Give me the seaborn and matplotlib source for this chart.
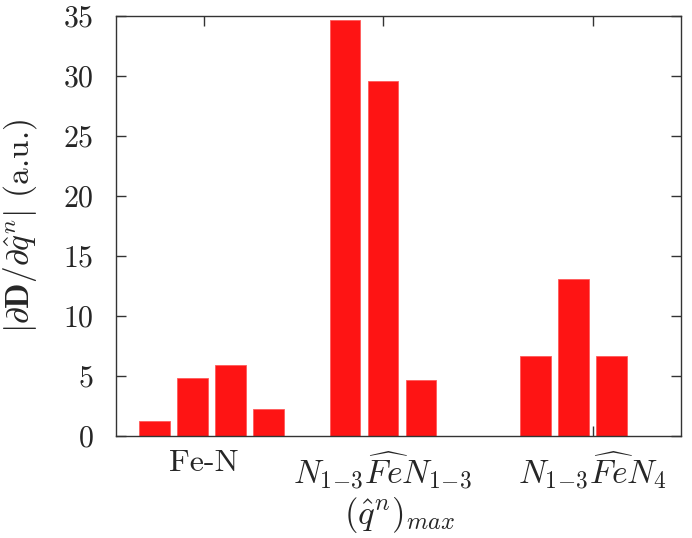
import matplotlib
matplotlib.use('Agg')
import matplotlib.pyplot as plt
import pandas as pd
import seaborn as sns

# bar slots: 4 per group, groups 5 slots apart
positions = [0, 1, 2, 3, 5, 6, 7, 10, 11, 12]
values = [1.2, 4.8, 5.9, 2.25, 34.7, 29.6, 4.65, 6.65, 13.1, 6.65]
group_ticks = [1.3, 6.0, 11.5]
group_labels = ["Fe-N", r"$N_{1\!-\!3}\widehat{Fe}N_{1\!-\!3}$", r"$N_{1\!-\!3}\widehat{Fe}N_4$"]
y_ticks = [0, 5, 10, 15, 20, 25, 30, 35]

df = pd.DataFrame({"pos": positions, "value": values})

sns.set_style("ticks")
plt.rcParams['font.family'] = ['cmr10', 'DejaVu Serif']
plt.rcParams['mathtext.fontset'] = 'cm'
plt.rcParams['axes.formatter.use_mathtext'] = True

fig = plt.figure(figsize=(6.92, 5.38), dpi=100)
ax = fig.add_axes([0.168, 0.19, 0.816, 0.78])

sns.barplot(data=df, x="pos", y="value", native_scale=True, width=0.8,
            color="#fe1414", saturation=1, edgecolor="#ff5a5a", linewidth=0.6, ax=ax)

ax.set_xlim(-1.0, 13.82)
ax.set_ylim(0, 35)
ax.set_yticks(y_ticks)
ax.set_xticks(group_ticks)
ax.set_xticklabels(group_labels)
ax.set_axisbelow(True)
ax.tick_params(axis="both", direction="in", length=7, width=1, color="#333333",
               top=True, right=True)
ax.tick_params(axis="x", labelsize=24, pad=10)
ax.tick_params(axis="y", labelsize=21.5, pad=16.5)
ax.get_xticklabels()[0].set_fontsize(23)
for s in ax.spines.values():
    s.set_visible(True)
    s.set_color("#333333")
    s.set_linewidth(1)

ax.set_ylabel(r"$|\partial \mathbf{D}/\partial \hat{q}^n|$ (a.u.)", fontsize=24)
ax.yaxis.set_label_coords(-0.137, 0.5)
ax.set_xlabel(r"$(\hat{q}^n)_{max}$", fontsize=25)
ax.xaxis.set_label_coords(0.502, -0.142)

fig.savefig("out.png", dpi=100)
